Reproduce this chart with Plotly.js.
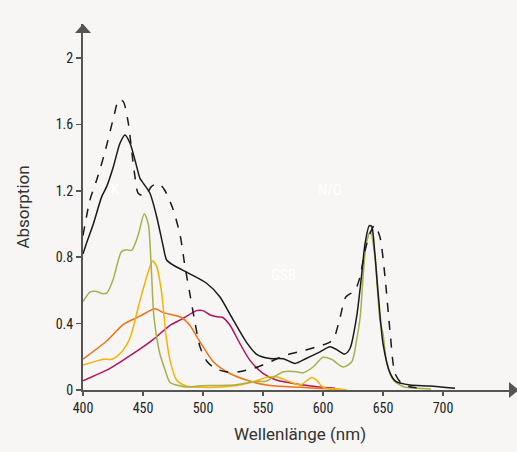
<!DOCTYPE html>
<html>
<head>
<meta charset="utf-8">
<script src="https://cdn.plot.ly/plotly-3.0.1.min.js"></script>
<style>
html,body{margin:0;padding:0;background:#f7f6f4;}
#chart{width:517px;height:452px;}
</style>
</head>
<body>
<div id="chart"></div>
<script>
// Black solid curve
const solidX = [400,402,408.6,415.6,419.7,425.3,430.8,435,439.2,443.3,447.5,450.3,455.8,461.4,466.9,469.7,475,489,503,514,523,536,544.7,555.8,567,576.7,586,597.5,605.8,611,618,622.5,628,632,635,638.6,640.6,643,646,650,656,661,672.5,689,710];
const solidY = [0.82,0.865,1.0,1.165,1.225,1.345,1.486,1.536,1.486,1.386,1.275,1.245,1.185,1.044,0.863,0.783,0.753,0.70,0.643,0.562,0.45,0.29,0.215,0.19,0.188,0.16,0.19,0.23,0.26,0.245,0.217,0.25,0.44,0.68,0.88,0.99,0.985,0.84,0.58,0.28,0.10,0.05,0.03,0.024,0.01];
// Black dashed curve
const dashX = [400,405.8,411.4,418,425,430,433.6,437.8,440.5,443.3,446,451.7,457,462.8,468,475,481,485,489,493,497.5,503,510,519,530,542,553,567,580,594.7,605,609,614,619,626.7,630.8,635,639,643,647.5,651.7,656,660,665.6,672.5,680];
const dashY = [0.93,1.145,1.265,1.426,1.627,1.75,1.737,1.606,1.446,1.285,1.185,1.169,1.225,1.245,1.205,1.09,0.93,0.743,0.582,0.42,0.26,0.175,0.13,0.11,0.11,0.13,0.16,0.205,0.23,0.26,0.285,0.31,0.43,0.56,0.60,0.68,0.84,0.94,0.994,0.92,0.68,0.34,0.10,0.04,0.02,0.012];
// Olive curve
const oliveX = [400,405.8,410,417,420,425,432,436,440.5,446,451,454.4,457,459,464,468,472.5,478,486,497.5,525,542,553,567,578,583.6,592,600,607,617,624,628,631,633.6,636,639.5,643,647.5,650,653,658.6,667,680,690];
const oliveY = [0.532,0.59,0.595,0.58,0.585,0.663,0.833,0.845,0.841,0.933,1.062,1.0,0.72,0.45,0.22,0.13,0.045,0.03,0.018,0.025,0.03,0.05,0.054,0.11,0.11,0.104,0.14,0.197,0.185,0.138,0.17,0.3,0.44,0.70,0.88,0.955,0.82,0.42,0.34,0.17,0.06,0.02,0.01,0.005];
// Yellow curve
const yellowX = [400,414,417,424,431,439,447.5,454.4,458,461.4,465.6,469,472.5,478,486,500,525,542,553,561,572.5,581,590.6,594.7,600,614,620];
const yellowY = [0.15,0.18,0.185,0.185,0.22,0.31,0.54,0.713,0.777,0.743,0.582,0.34,0.18,0.06,0.024,0.016,0.024,0.05,0.076,0.08,0.05,0.03,0.076,0.06,0.016,0.004,0.0];
// Orange curve
const orangeX = [400,419.7,433.6,447.5,460,467,475,482,489,497.5,508.6,519.7,536,553,581,608.6,615];
const orangeY = [0.186,0.295,0.395,0.445,0.49,0.466,0.452,0.438,0.39,0.29,0.17,0.11,0.06,0.03,0.016,0.006,0.003];
// Magenta curve
const magentaX = [400,422.5,442,458.6,472.5,482,494.7,500,506,512.8,516,522.5,530,539,550,561,578,595,610];
const magentaY = [0.056,0.13,0.22,0.305,0.39,0.425,0.478,0.478,0.452,0.44,0.438,0.39,0.29,0.18,0.10,0.06,0.036,0.02,0.01];

const xTicks = [400,450,500,550,600,650,700];
const yTicks = [0,0.4,0.8,1.2,1.6,2];
const yTickText = ['0','0.4','0.8','1.2','1.6','2'];

const FONT = '"Liberation Sans Narrow", "Roboto Condensed", Roboto, sans-serif';
const TFONT = 'Roboto, "Liberation Sans", sans-serif';

function tr(x, y, color, dash) {
  return {x: x, y: y, type: 'scatter', mode: 'lines',
    line: {color: color, width: 1.5, dash: dash || 'solid', shape: 'spline', smoothing: 0.7},
    hoverinfo: 'skip', showlegend: false, cliponaxis: false};
}

const data = [
  tr(magentaX, magentaY, '#b5135c'),
  tr(orangeX, orangeY, '#f07214'),
  tr(yellowX, yellowY, '#f5b400'),
  tr(oliveX, oliveY, '#a6b04c'),
  tr(dashX, dashY, '#1a1a1a', 'dash'),
  tr(solidX, solidY, '#1a1a1a')
];

const W = 434, H = 366; // plot area in px
const axisCol = '#555555';

const layout = {
  width: 517, height: 452,
  margin: {l: 83, r: 0, t: 24, b: 62},
  paper_bgcolor: '#f7f6f4', plot_bgcolor: '#f7f6f4',
  font: {family: FONT, color: '#222222', size: 13},
  xaxis: {
    range: [400, 400 + W / 1.2], tickvals: xTicks, ticktext: xTicks.map(String),
    showgrid: false, zeroline: false, showline: true, linecolor: axisCol, linewidth: 2,
    ticks: 'outside', ticklen: 4, tickcolor: axisCol, tickwidth: 1.5,
    tickfont: {family: FONT, size: 14, color: '#222'},
    title: {text: 'Wellenlänge (nm)', font: {family: TFONT, size: 17, color: '#333'}, standoff: 13}
  },
  yaxis: {
    range: [0, H / 166], tickvals: yTicks, ticktext: yTickText,
    showgrid: false, zeroline: false, showline: true, linecolor: axisCol, linewidth: 2,
    ticks: 'outside', ticklen: 5, tickcolor: axisCol, tickwidth: 1.5,
    tickfont: {family: FONT, size: 14, color: '#222'},
    title: {text: 'Absorption', font: {family: TFONT, size: 17, color: '#333'}, standoff: 22}
  },
  shapes: [
    {type: 'path', xref: 'paper', yref: 'paper', fillcolor: axisCol, line: {width: 0},
     path: `M 0 1 L ${-8/W} ${1-9/H} L ${8/W} ${1-9/H} Z`},
    {type: 'path', xref: 'paper', yref: 'paper', fillcolor: axisCol, line: {width: 0},
     path: `M ${1+2/W} 0 L ${1-8/W} ${8/H} L ${1-8/W} ${-8/H} Z`}
  ],
  annotations: [
    {x: 426.7, y: 1.205, xref: 'x', yref: 'y', text: 'K', showarrow: false, font: {family: FONT, size: 15, color: '#ffffff'}},
    {x: 605.8, y: 1.205, xref: 'x', yref: 'y', text: 'N/O', showarrow: false, font: {family: FONT, size: 15, color: '#ffffff'}},
    {x: 566.7, y: 0.693, xref: 'x', yref: 'y', text: 'GSB', showarrow: false, font: {family: FONT, size: 15, color: '#ffffff'}}
  ]
};

Plotly.newPlot('chart', data, layout, {staticPlot: true, displayModeBar: false});
</script>
</body>
</html>
